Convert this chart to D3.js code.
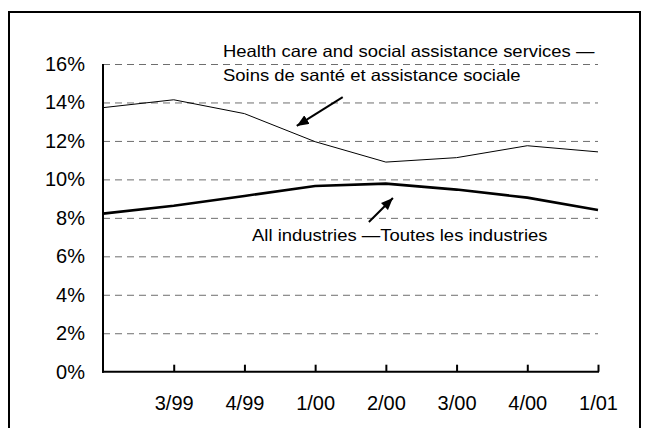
<!DOCTYPE html>
<html>
<head>
<meta charset="utf-8">
<script src="https://cdn.jsdelivr.net/npm/d3@7"></script>
<style>
  html, body { margin: 0; padding: 0; background: #fff; }
  svg { display: block; }
  text { font-family: "Liberation Sans", Arial, sans-serif; fill: #000; }
</style>
</head>
<body>
<svg id="chart" width="645" height="428"></svg>
<script>
// ---- data ----
const categories = ["", "3/99", "4/99", "1/00", "2/00", "3/00", "4/00", "1/01"];
const healthValues = [13.73, 14.14, 13.42, 11.96, 10.90, 11.13, 11.75, 11.43];
const allValues = [8.22, 8.63, 9.14, 9.66, 9.78, 9.47, 9.05, 8.41];
const yTicks = [0, 2, 4, 6, 8, 10, 12, 14, 16];
const healthLabel = ["Health care and social assistance services \u2014", "Soins de sant\u00e9 et assistance sociale"];
const allLabel = "All industries \u2014Toutes les industries";

(function () {
// ---- layout ----
const plotL = 103, plotR = 598, plotT = 64, plotB = 371.7;
const svg = d3.select("#chart");

// frame
svg.append("rect").attr("x", 9).attr("y", 12).attr("width", 631).attr("height", 440)
  .attr("fill", "none").attr("stroke", "#000").attr("stroke-width", 2);

const x = d3.scalePoint().domain(categories).range([plotL, plotR]);
const xi = d3.scaleLinear().domain([0, categories.length - 1]).range([plotL, plotR]);
const y = d3.scaleLinear().domain([0, 16]).range([plotB, plotT]);

// gridlines
const grid = svg.append("g").attr("transform", `translate(${plotL},0)`)
  .call(d3.axisLeft(y).tickValues(yTicks.filter(d => d > 0)).tickSize(-(plotR - plotL)).tickFormat(""));
grid.select(".domain").remove();
grid.selectAll(".tick line").attr("stroke", "#6e6e6e").attr("stroke-width", 1).attr("stroke-dasharray", "7,5");

// y axis labels
const yAxis = svg.append("g").attr("transform", `translate(${plotL},0)`)
  .call(d3.axisLeft(y).tickValues(yTicks).tickSize(0).tickPadding(18).tickFormat(d => d + "%"));
yAxis.select(".domain").remove();
yAxis.selectAll("text").attr("font-size", 20).attr("font-family", "Liberation Sans, Arial, sans-serif");

// x axis
const xAxis = svg.append("g").attr("transform", `translate(0,${plotB})`)
  .call(d3.axisBottom(x).tickSizeInner(-7).tickSizeOuter(0));
xAxis.select(".domain").remove();
xAxis.selectAll(".tick line").attr("stroke", "#000").attr("stroke-width", 2)
  .filter(d => d === categories[0]).remove();
xAxis.selectAll(".tick text").attr("y", 38.5).attr("dy", null)
  .attr("font-size", 20).attr("font-family", "Liberation Sans, Arial, sans-serif");

// axis lines
svg.append("line").attr("x1", plotL).attr("x2", plotL).attr("y1", plotT).attr("y2", plotB + 1)
  .attr("stroke", "#000").attr("stroke-width", 2);
svg.append("line").attr("x1", plotL - 1).attr("x2", plotR + 1).attr("y1", plotB).attr("y2", plotB)
  .attr("stroke", "#000").attr("stroke-width", 2);

// lines
const line = d3.line().x((d, i) => x(categories[i])).y(d => y(d));
svg.append("path").datum(healthValues).attr("d", line)
  .attr("fill", "none").attr("stroke", "#000").attr("stroke-width", 1);
svg.append("path").datum(allValues).attr("d", line)
  .attr("fill", "none").attr("stroke", "#000").attr("stroke-width", 2.6);

// arrows
const defs = svg.append("defs");
defs.append("marker").attr("id", "ah").attr("viewBox", "0 0 12 10")
  .attr("refX", 12).attr("refY", 5).attr("markerWidth", 12).attr("markerHeight", 10)
  .attr("markerUnits", "userSpaceOnUse").attr("orient", "auto")
  .append("path").attr("d", "M0,0 L12,5 L0,10 Z").attr("fill", "#000");

const arrows = [
  { from: [3.39, 14.28], to: [2.74, 12.78] },
  { from: [3.76, 7.78], to: [4.10, 9.03] }
];
arrows.forEach(a => {
  svg.append("line")
    .attr("x1", xi(a.from[0])).attr("y1", y(a.from[1]))
    .attr("x2", xi(a.to[0])).attr("y2", y(a.to[1]))
    .attr("stroke", "#000").attr("stroke-width", 2).attr("marker-end", "url(#ah)");
});

// annotation text (slightly wide face)
function wideText(tx, ty, str) {
  svg.append("text").attr("transform", `translate(${tx},${ty}) scale(1.12,1)`)
    .attr("font-size", 16.5).text(str);
}
wideText(223, 57, healthLabel[0]);
wideText(223, 80.5, healthLabel[1]);
wideText(252, 241, allLabel);
})();
</script>
</body>
</html>
